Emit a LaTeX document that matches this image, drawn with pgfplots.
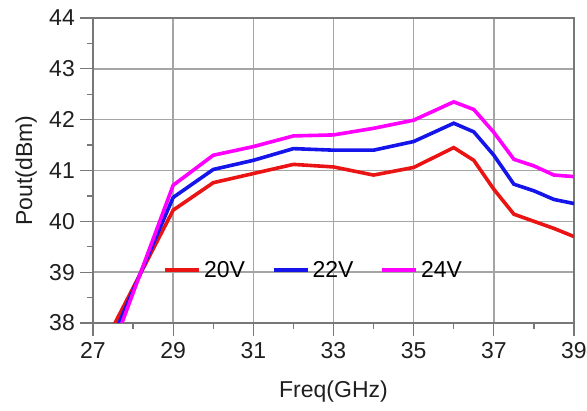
\documentclass[border=0pt]{standalone}
\usepackage{fontspec}
\setmainfont{Liberation Sans}
\usepackage{pgfplots}
\pgfplotsset{compat=1.18}

\definecolor{lred}{RGB}{235,20,20}
\definecolor{lblue}{RGB}{20,20,235}
\definecolor{lmag}{RGB}{255,0,255}
\definecolor{gridc}{RGB}{165,165,165}
\definecolor{axc}{RGB}{120,120,120}

\pgfplotstableread{
f     p20    p22    p24
27    37.16  36.81  36.47
28    38.69  38.64  38.59
29    40.22  40.47  40.71
30    40.76  41.02  41.30
31    40.94  41.20  41.47
32    41.12  41.43  41.68
33    41.07  41.40  41.70
34    40.91  41.40  41.83
35    41.06  41.57  41.99
36    41.45  41.93  42.35
36.5  41.20  41.76  42.20
37    40.63  41.30  41.75
37.5  40.14  40.73  41.22
38    40.00  40.60  41.09
38.5  39.86  40.43  40.91
39    39.70  40.35  40.88
}\pout

\begin{document}
\begin{tikzpicture}
\begin{axis}[
    scale only axis,
    width=481pt, height=305pt,
    xmin=27, xmax=39, ymin=38, ymax=44,
    xtick={27,29,...,39},
    minor xtick={28,30,...,38},
    ytick={38,39,...,44},
    minor ytick={38.5,39.5,...,43.5},
    grid=major,
    major grid style={gridc, line width=1.4pt},
    axis line style={axc, line width=1.2pt},
    tick align=outside,
    major tick length=13pt,
    minor tick length=6pt,
    every tick/.style={axc, line width=1.2pt},
    xtick pos=bottom, ytick pos=left,
    /pgf/number format/assume math mode=true,
    ticklabel style={font=\fontsize{23}{26}\selectfont, text=black!88},
    yticklabel style={inner sep=5pt},
    xticklabel style={inner sep=6pt},
    label style={font=\fontsize{23}{26}\selectfont, text=black!88},
    xlabel={Freq(GHz)},
    ylabel={Pout(dBm)},
    xlabel style={at={(axis description cs:0.5,0)}, anchor=base, yshift=-75pt},
    ylabel style={at={(axis description cs:-0.1268,0.5)}, anchor=base},
    legend columns=3,
    legend style={draw=none, fill=none, at={(axis description cs:0.146,0.174)},
        anchor=west, inner sep=0pt,
        font=\fontsize{23}{26}\selectfont,
        /tikz/every even column/.append style={column sep=24pt},
        nodes={inner sep=3pt}},
    legend image code/.code={\draw[#1] (0pt,0pt) -- (34pt,0pt);},
]
\addplot[lred, line width=3.6pt] table[x=f, y=p20] {\pout};
\addlegendentry{20V}
\addplot[lblue, line width=3.6pt] table[x=f, y=p22] {\pout};
\addlegendentry{22V}
\addplot[lmag, line width=3.6pt] table[x=f, y=p24] {\pout};
\addlegendentry{24V}
\end{axis}
\pgfresetboundingbox
\path[use as bounding box] (current axis.south west) ++(-93pt,-88pt) rectangle ([shift={(13pt,18pt)}]current axis.north east);
\end{tikzpicture}
\end{document}
